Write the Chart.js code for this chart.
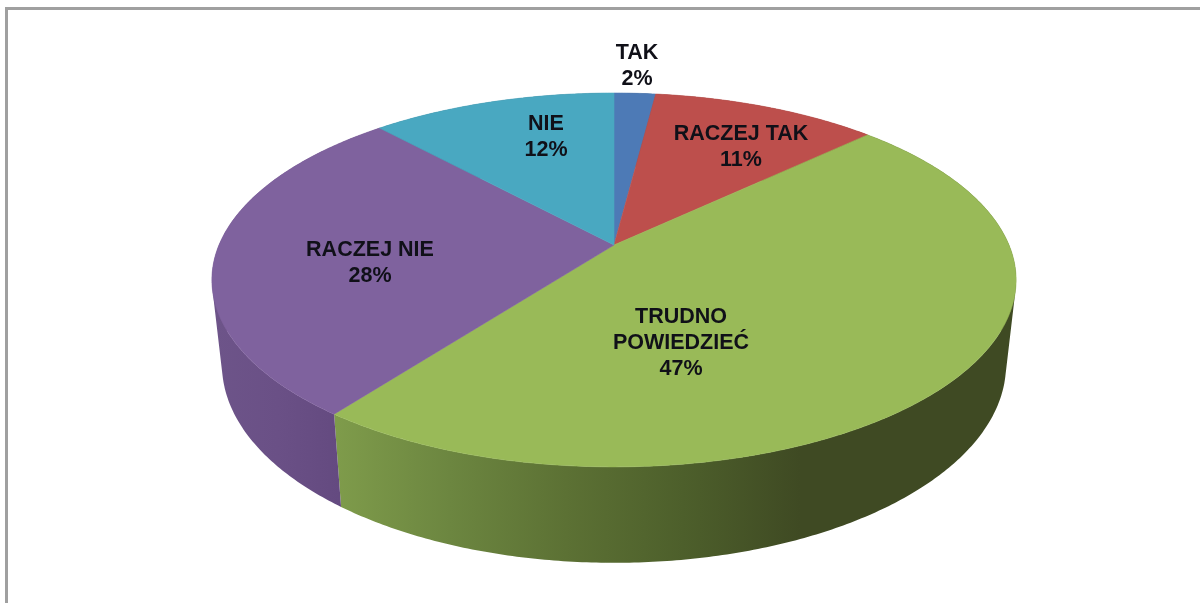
<!DOCTYPE html>
<html>
<head>
<meta charset="utf-8">
<title>Pie</title>
<script src="https://cdn.jsdelivr.net/npm/chart.js@4"></script>
<style>
    html, body { margin: 0; padding: 0; background: #fff; overflow: hidden; }
    #wrap { position: relative; width: 1200px; height: 603px; filter: blur(0.45px); }
    #frame { position: absolute; left: 5px; top: 7px; right: -4px; bottom: -4px; border-left: 3px solid #a0a0a0; border-top: 3px solid #a0a0a0; }
    #pie { position: absolute; left: 0; top: 0; }
</style>
</head>
<body>
<div id="wrap">
    <div id="frame"></div>
    <canvas id="pie" width="1200" height="603"></canvas>
</div>
<script>
const categories = ['TAK', 'RACZEJ TAK', 'TRUDNO POWIEDZIEĆ', 'RACZEJ NIE', 'NIE'];
// the labels show them rounded
const percents = [2.0, 10.9, 47.4, 27.9, 11.8];
const labelLines = [['TAK'], ['RACZEJ TAK'], ['TRUDNO', 'POWIEDZIEĆ'], ['RACZEJ NIE'], ['NIE']];

const topColors = ['#4d7ab6', '#bd4f4c', '#99ba58', '#7f629e', '#49a8c1'];
// gradient stops for the side of each slice, left to right on screen
const wallColors = [
    ['#2c4a70', '#2c4a70'],
    ['#73302e', '#73302e'],
    ['#7f9c4b', '#6c8640', '#5c7134', '#4d5f2b', '#3f4a23'],
    ['#6d5489', '#6a5086', '#644a80'],
    ['#2d6675', '#2d6675']
];
const wallRange = [[0, 1], [0, 1], [333, 800], [215, 340], [0, 1]];

// label centres of the first line, in canvas pixels
const labelSpots = [[637, 53], [741, 134], [681, 317], [370, 250], [546, 124]];

// fake 3D: the flat circle goes through a perspective squash
const PERSPECTIVE = 0.187;
const SCALE_X = 395 / 245;
const SCALE_Y = 180.4 / 245;

function topPoint(arc, angle) {
    const u = Math.cos(angle);
    const v = -Math.sin(angle);
    const den = 1 + PERSPECTIVE * v;
    return {
        x: arc.x + arc.outerRadius * SCALE_X * u / den,
        y: arc.y - arc.outerRadius * SCALE_Y * v / den
    };
}

function bottomPoint(arc, angle) {
    const p = topPoint(arc, angle);
    return {
        x: arc.x + (p.x - arc.x) * 0.975,
        y: p.y + 85 + (p.y - arc.y - 40) * 0.06
    };
}

function rimAngles(arc) {
    const list = [];
    const steps = Math.max(2, Math.ceil((arc.endAngle - arc.startAngle) / 0.01));
    for (let i = 0; i <= steps; i++) {
        list.push(arc.startAngle + (arc.endAngle - arc.startAngle) * i / steps);
    }
    return list;
}

// adds a quad to the path, always wound the same way so they all fill as one shape
function addQuad(ctx, pts) {
    let area = 0;
    pts.forEach((p, i) => {
        const q = pts[(i + 1) % pts.length];
        area += p.x * q.y - q.x * p.y;
    });
    const list = area < 0 ? pts.slice().reverse() : pts;
    ctx.moveTo(list[0].x, list[0].y);
    list.slice(1).forEach(p => ctx.lineTo(p.x, p.y));
    ctx.closePath();
}

const pie3d = {
    id: 'pie3d',
    beforeDatasetsDraw(chart) {
        const ctx = chart.ctx;
        const arcs = chart.getDatasetMeta(0).data;

        // sides first, the top covers whatever is behind it
        arcs.forEach((arc, i) => {
            const angles = rimAngles(arc);
            const grad = ctx.createLinearGradient(wallRange[i][0], 0, wallRange[i][1], 0);
            wallColors[i].forEach((c, j) => {
                grad.addColorStop(j / (wallColors[i].length - 1), c);
            });
            ctx.beginPath();
            for (let j = 0; j < angles.length - 1; j++) {
                addQuad(ctx, [
                    topPoint(arc, angles[j]),
                    topPoint(arc, angles[j + 1]),
                    bottomPoint(arc, angles[j + 1]),
                    bottomPoint(arc, angles[j])
                ]);
            }
            ctx.fillStyle = grad;
            ctx.fill();
        });

        arcs.forEach((arc, i) => {
            ctx.beginPath();
            ctx.moveTo(arc.x, arc.y);
            rimAngles(arc).forEach(a => {
                const p = topPoint(arc, a);
                ctx.lineTo(p.x, p.y);
            });
            ctx.closePath();
            ctx.fillStyle = topColors[i];
            ctx.fill();
            ctx.strokeStyle = topColors[i];
            ctx.lineWidth = 0.6;
            ctx.stroke();
        });

        return false;
    },
    afterDraw(chart) {
        const ctx = chart.ctx;
        ctx.save();
        ctx.font = 'bold 21.5px "Liberation Sans", Arial, sans-serif';
        ctx.fillStyle = '#101018';
        ctx.textAlign = 'center';
        ctx.textBaseline = 'middle';
        labelLines.forEach((lines, i) => {
            const rows = lines.concat(Math.round(chart.data.datasets[0].data[i]) + '%');
            rows.forEach((row, r) => {
                ctx.fillText(row, labelSpots[i][0], labelSpots[i][1] + r * 26);
            });
        });
        ctx.restore();
    }
};

new Chart(document.getElementById('pie'), {
    type: 'pie',
    data: {
        labels: categories,
        datasets: [{
            data: percents,
            backgroundColor: topColors,
            borderWidth: 0
        }]
    },
    options: {
        responsive: false,
        animation: false,
        layout: { padding: { left: 28, bottom: 113 } },
        plugins: {
            legend: { display: false },
            tooltip: { enabled: false }
        }
    },
    plugins: [pie3d]
});
</script>
</body>
</html>
